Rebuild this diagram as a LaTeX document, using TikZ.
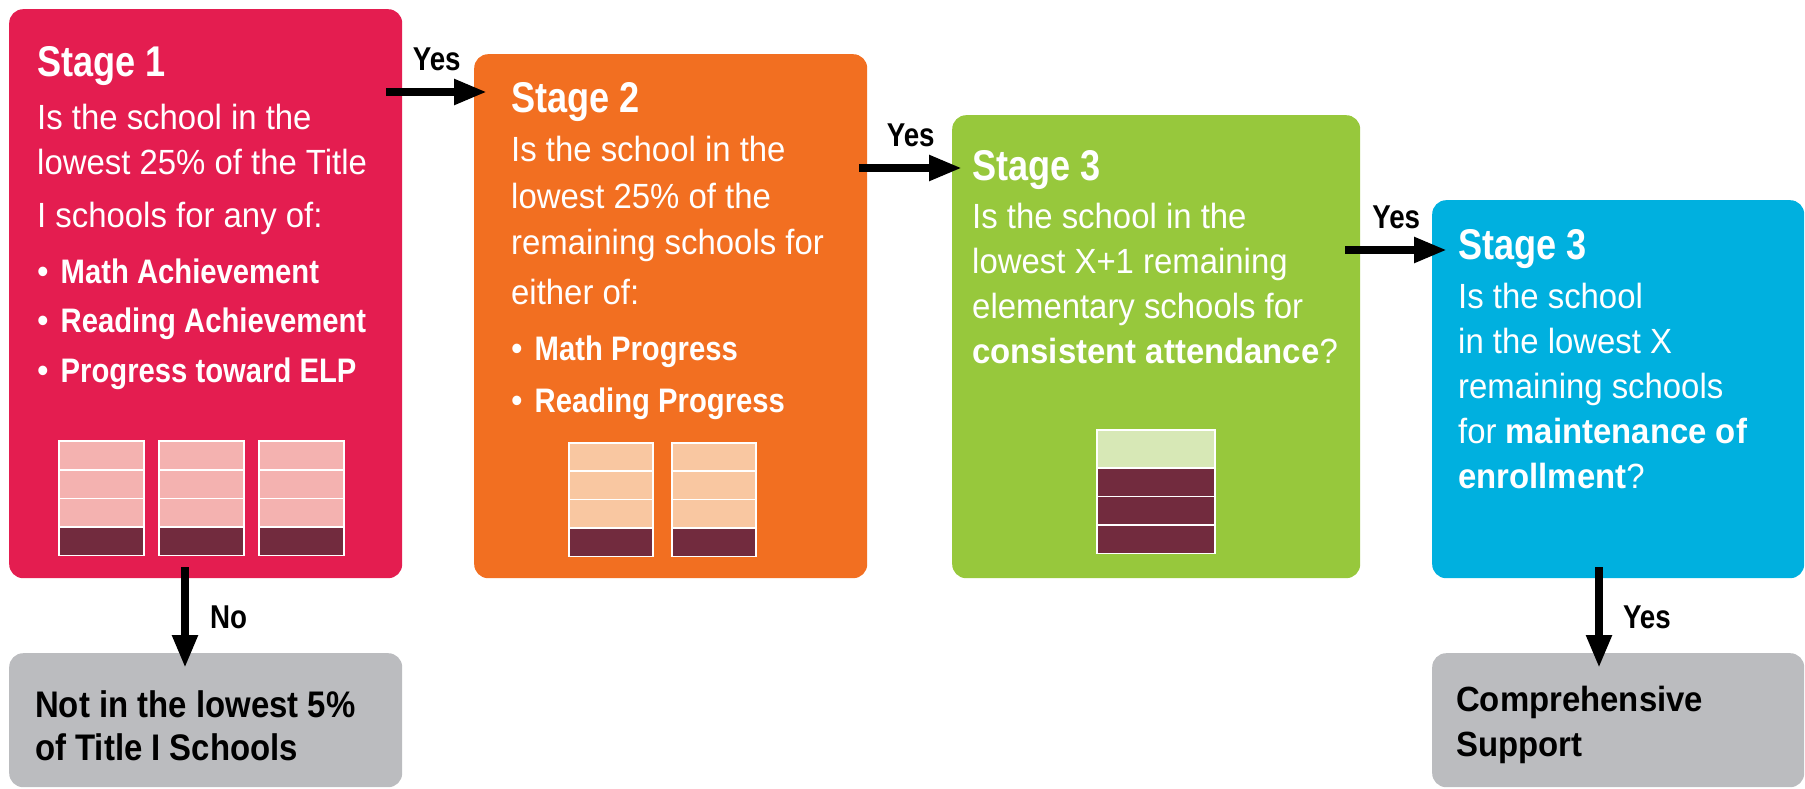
\documentclass[tikz,border=0pt]{standalone}
\usepackage{fontspec}
\setmainfont{Liberation Sans}[FakeStretch=0.94]
\newfontfamily\stagefont{Liberation Sans}[FakeStretch=0.84]
\newfontfamily\itemfont{Liberation Sans}[FakeStretch=0.86]
\newfontfamily\outfont{Liberation Sans}[FakeStretch=0.89]
\newfontfamily\answerfont{Liberation Sans}[FakeStretch=0.84]
\usetikzlibrary{arrows.meta,calc}

\definecolor{stagered}{HTML}{E41D50}
\definecolor{stageorange}{HTML}{F26F21}
\definecolor{stagegreen}{HTML}{97C83C}
\definecolor{stageblue}{HTML}{00B0DF}
\definecolor{outgray}{HTML}{BBBCBF}
\definecolor{barpink}{HTML}{F4B2B0}
\definecolor{barpeach}{HTML}{F9C7A1}
\definecolor{barlime}{HTML}{D7E8B6}
\definecolor{barmaroon}{HTML}{722B3E}

\newcommand\stageitem[1]{•\hspace{12pt}{\itemfont\bfseries\fontsize{34}{45}\selectfont #1}}

\begin{document}
\begin{tikzpicture}[x=1pt,y=-1pt,
    stagebox/.style={rounded corners=14pt,anchor=north west,inner sep=0pt},
    title/.style={anchor=base west,inner sep=0pt,text=white,font=\stagefont\bfseries\fontsize{43}{43}\selectfont},
    body/.style={anchor=north west,inner sep=0pt,text=white,align=left,font=\fontsize{35}{45}\selectfont},
    outtext/.style={anchor=north west,inner sep=0pt,align=left},
    flow/.style={line width=8pt,-{Triangle[length=33pt,width=24pt]}},
    answer/.style={inner sep=0pt,font=\answerfont\bfseries\fontsize{33}{33}\selectfont},
    cell/.style={draw=white,line width=1.5pt}]
\useasboundingbox (0,0) rectangle (1805,789);

% stage boxes
\node[stagebox,fill=stagered,minimum width=393pt,minimum height=569pt] (s1) at (9,9) {};
\node[stagebox,fill=stageorange,minimum width=393pt,minimum height=524pt] (s2) at (474,54) {};
\node[stagebox,fill=stagegreen,minimum width=408pt,minimum height=463pt] (s3) at (952,115) {};
\node[stagebox,fill=stageblue,minimum width=372pt,minimum height=378pt] (s4) at (1432,200) {};
\node[stagebox,fill=outgray,minimum width=393pt,minimum height=134pt] (g1) at (9,653) {};
\node[stagebox,fill=outgray,minimum width=372pt,minimum height=134pt] (g2) at (1432,653) {};

% texts
\node[title] (h1) at (37,77) {Stage 1};
\node[body] (q1) at (37,103.5) {Is the school in the\\lowest 25\% of the Title\\[8pt]I schools for any of:\\[11pt]%
  \stageitem{Math Achievement}\\[4pt]\stageitem{Reading Achievement}\\[5pt]\stageitem{Progress toward ELP}};
\node[title] (h2) at (511,113) {Stage 2};
\node[body] (q2) at (511,136) {Is the school in the\\[2pt]lowest 25\% of the\\[1pt]remaining schools for\\[5pt]either of:\\[11pt]%
  \stageitem{Math Progress}\\[7pt]\stageitem{Reading Progress}};
\node[title] (h3) at (972,180) {Stage 3};
\node[body] (q3) at (972,202.5) {Is the school in the\\lowest X+1 remaining\\elementary schools for\\\textbf{consistent attendance}?};
\node[title] (h4) at (1458,259) {Stage 3};
\node[body] (q4) at (1458,283) {Is the school\\in the lowest X\\remaining schools\\for \textbf{maintenance of}\\\textbf{enrollment}?};
\node[outtext,font=\outfont\bfseries\fontsize{37}{43}\selectfont] (o1) at (35,690) {Not in the lowest 5\%\\of Title I Schools};
\node[outtext,font=\bfseries\fontsize{35}{45}\selectfont] (o2) at (1456,685.5) {Comprehensive\\Support};

% bars
\foreach \bx in {59,159,259}
  \foreach \by/\bc in {441/barpink,470/barpink,498.5/barpink,527/barmaroon}
    \filldraw[cell,fill=\bc] (\bx,\by) rectangle ++(85,28.5);
\foreach \bx in {569,672}
  \foreach \by/\bc in {443/barpeach,471/barpeach,499.5/barpeach,528/barmaroon}
    \filldraw[cell,fill=\bc] (\bx,\by) rectangle ++(84,28.5);
\filldraw[cell,fill=barlime] (1097,430) rectangle ++(118,38);
\foreach \by in {468,496.5,525}
  \filldraw[cell,fill=barmaroon] (1097,\by) rectangle ++(118,28.5);

% arrows
\draw[flow] ($(s1.north east)+(-16,83)$) -- node[answer,above=17pt] (y1) {Yes} ($(s2.north west)+(13,38)$);
\draw[flow] ($(s2.north east)+(-8,114)$) -- node[answer,above=17pt] (y2) {Yes} ($(s3.north west)+(10,53)$);
\draw[flow] ($(s3.north east)+(-15,135)$) -- node[answer,above=17pt] (y3) {Yes} ($(s4.north west)+(15,50)$);
\draw[flow] ($(s1.south west)+(176,-11)$) -- node[answer,right=21pt] (n1) {No} ($(g1.north west)+(176,15)$);
\draw[flow] ($(s4.south west)+(167,-11)$) -- node[answer,right=20pt] (y4) {Yes} ($(g2.north west)+(167,15)$);
\end{tikzpicture}
\end{document}
